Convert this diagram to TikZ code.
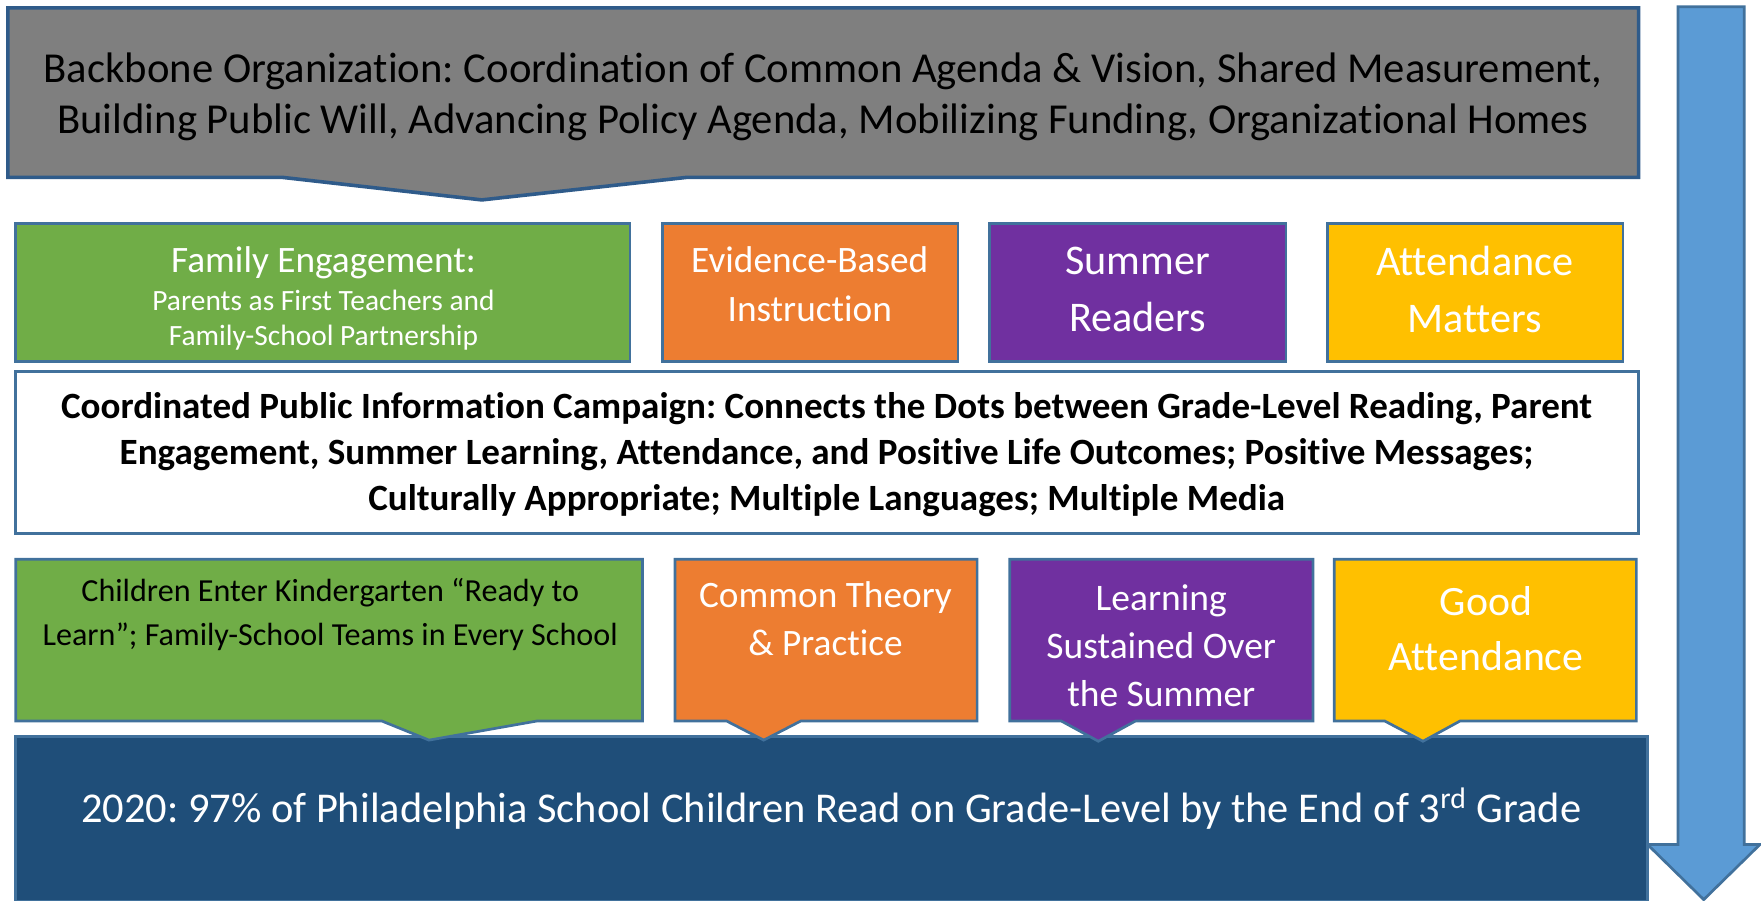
\documentclass[tikz,border=0pt]{standalone}
\usepackage{fontspec}
\setmainfont{Carlito}[Ligatures=CommonOff]
\frenchspacing
\definecolor{bbgray}{HTML}{7F7F7F}
\definecolor{edgedark}{HTML}{2F5B8A}
\definecolor{edge}{HTML}{41719C}
\definecolor{famgreen}{HTML}{70AD47}
\definecolor{instorange}{HTML}{ED7D31}
\definecolor{sumpurple}{HTML}{7030A0}
\definecolor{attyellow}{HTML}{FFC000}
\definecolor{goalnavy}{HTML}{1F4E79}
\definecolor{flowblue}{HTML}{5B9BD5}
\tikzset{
  panel/.style={draw=edge, line width=1.2},
  label/.style={inner sep=0pt, align=center, text=white},
  fs/.style n args={2}{font=\fontsize{#1}{#2}\selectfont}
}
\begin{document}
\begin{tikzpicture}[x=0.5pt, y=-0.5pt, line join=miter]
\useasboundingbox (0,0) rectangle (1568,802);

% downward flow arrow on the right
\draw[fill=flowblue, draw=edge, line width=1.2]
  (1494,6) -- (1553,6) -- (1553,752) -- (1567,752) -- (1517,801)
  -- (1467,752) -- (1494,752) -- cycle;

% backbone callout
\draw[fill=bbgray, draw=edgedark, line width=1.6]
  (7,7) -- (1459,7) -- (1459,158) -- (611,158) -- (429,178) -- (252,158)
  -- (7,158) -- cycle;
\node[label, text=black, fs={19}{22.7}] (backbone) at (733,86)
  {Backbone Organization: Coordination of Common Agenda \& Vision, Shared Measurement,\\
   Building Public Will, Advancing Policy Agenda, Mobilizing Funding, Organizational Homes};

% strategy boxes
\draw[panel, fill=famgreen] (14,199) rectangle (561,322);
\node[label, fs={16.6}{20}] (famhead) at (288,234) {Family Engagement:};
\node[label, fs={13.1}{15.5}] (famsub) at (288,285)
  {Parents as First Teachers and\\Family-School Partnership};

\draw[panel, fill=instorange] (590,199) rectangle (853,322);
\node[label, fs={16.6}{21.5}] (instr) at (721,253) {Evidence-Based\\Instruction};

\draw[panel, fill=sumpurple] (881,199) rectangle (1145,322);
\node[label, fs={18.8}{25.5}] (summer) at (1013,258) {Summer\\Readers};

\draw[panel, fill=attyellow] (1182,199) rectangle (1445,322);
\node[label, fs={18.8}{25.5}] (attend) at (1313,258) {Attendance\\Matters};

% public information campaign
\draw[panel, fill=white] (14,331) rectangle (1459,475);
\node[label, text=black, font=\bfseries\fontsize{16.5}{20.5}\selectfont] (campaign) at (736,405)
  {Coordinated Public Information Campaign: Connects the Dots between Grade-Level Reading, Parent\\
   Engagement, Summer Learning, Attendance, and Positive Life Outcomes; Positive Messages;\\
   Culturally Appropriate; Multiple Languages; Multiple Media};

% goal box
\draw[panel, fill=goalnavy] (14,656) rectangle (1467,803);
\node[label, fs={18.9}{22}] (goal) at (740,720)
  {2020: 97\% of Philadelphia School Children Read on Grade-Level by the End of 3\textsuperscript{rd} Grade};

% outcome callouts
\draw[panel, fill=famgreen]
  (14,498) -- (572,498) -- (572,642) -- (478,642) -- (382,659) -- (340,642)
  -- (14,642) -- cycle;
\node[label, text=black, fs={14.3}{19.5}] (ready) at (294,547)
  {Children Enter Kindergarten “Ready to\\Learn”; Family-School Teams in Every School};

\draw[panel, fill=instorange]
  (601,498) -- (870,498) -- (870,642) -- (713,642) -- (680,659) -- (647,642)
  -- (601,642) -- cycle;
\node[label, fs={16.6}{21.5}] (theory) at (735,551) {Common Theory\\\& Practice};

\draw[panel, fill=sumpurple]
  (899,498) -- (1169,498) -- (1169,642) -- (1011,642) -- (978,660) -- (945,642)
  -- (899,642) -- cycle;
\node[label, fs={16.7}{21.5}] (sustained) at (1034,575)
  {Learning\\Sustained Over\\the Summer};

\draw[panel, fill=attyellow]
  (1188,498) -- (1457,498) -- (1457,642) -- (1300,642) -- (1267,660) -- (1233,642)
  -- (1188,642) -- cycle;
\node[label, fs={18.6}{24.5}] (good) at (1323,560) {Good\\Attendance};
\end{tikzpicture}
\end{document}
